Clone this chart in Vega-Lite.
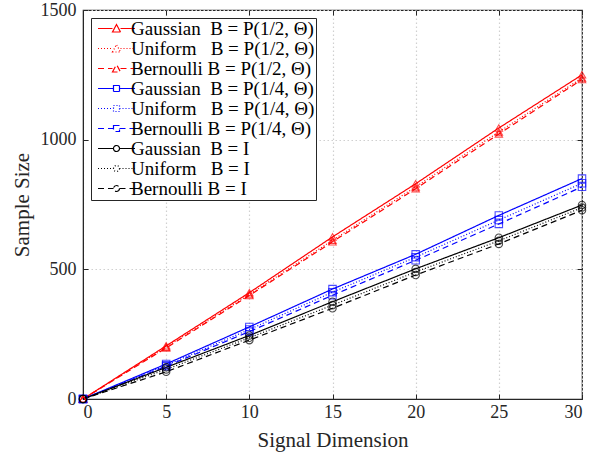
{
  "$schema": "https://vega.github.io/schema/vega-lite/v6.json",
  "width": 499,
  "height": 389,
  "autosize": {"type": "none"},
  "padding": {"left": 83, "top": 10, "right": 21, "bottom": 60},
  "background": "white",
  "config": {
    "view": {"stroke": "#262626", "strokeWidth": 1.2},
    "font": "Liberation Serif",
    "axis": {
      "labelFont": "Liberation Serif", "titleFont": "Liberation Serif",
      "labelFontSize": 18, "titleFontSize": 21, "titleFontWeight": "normal",
      "labelColor": "#262626", "titleColor": "#262626",
      "domainColor": "#262626", "tickColor": "#262626",
      "tickSize": -5, "labelPadding": 9,
      "gridColor": "#d0d0d0", "gridDash": [1.5, 2.5], "gridWidth": 1.2
    }
  },
  "data": {"values": [
    {"series": "Gaussian\u00a0\u00a0B = P(1/2, Θ)", "x": 0, "y": 0},
    {"series": "Gaussian\u00a0\u00a0B = P(1/2, Θ)", "x": 5, "y": 205},
    {"series": "Gaussian\u00a0\u00a0B = P(1/2, Θ)", "x": 10, "y": 410},
    {"series": "Gaussian\u00a0\u00a0B = P(1/2, Θ)", "x": 15, "y": 625},
    {"series": "Gaussian\u00a0\u00a0B = P(1/2, Θ)", "x": 20, "y": 830},
    {"series": "Gaussian\u00a0\u00a0B = P(1/2, Θ)", "x": 25, "y": 1045},
    {"series": "Gaussian\u00a0\u00a0B = P(1/2, Θ)", "x": 30, "y": 1250},
    {"series": "Uniform\u00a0\u00a0\u00a0B = P(1/2, Θ)", "x": 0, "y": 0},
    {"series": "Uniform\u00a0\u00a0\u00a0B = P(1/2, Θ)", "x": 5, "y": 200},
    {"series": "Uniform\u00a0\u00a0\u00a0B = P(1/2, Θ)", "x": 10, "y": 403},
    {"series": "Uniform\u00a0\u00a0\u00a0B = P(1/2, Θ)", "x": 15, "y": 612},
    {"series": "Uniform\u00a0\u00a0\u00a0B = P(1/2, Θ)", "x": 20, "y": 818},
    {"series": "Uniform\u00a0\u00a0\u00a0B = P(1/2, Θ)", "x": 25, "y": 1030},
    {"series": "Uniform\u00a0\u00a0\u00a0B = P(1/2, Θ)", "x": 30, "y": 1238},
    {"series": "Bernoulli B = P(1/2, Θ)", "x": 0, "y": 0},
    {"series": "Bernoulli B = P(1/2, Θ)", "x": 5, "y": 197},
    {"series": "Bernoulli B = P(1/2, Θ)", "x": 10, "y": 399},
    {"series": "Bernoulli B = P(1/2, Θ)", "x": 15, "y": 606},
    {"series": "Bernoulli B = P(1/2, Θ)", "x": 20, "y": 811},
    {"series": "Bernoulli B = P(1/2, Θ)", "x": 25, "y": 1022},
    {"series": "Bernoulli B = P(1/2, Θ)", "x": 30, "y": 1232},
    {"series": "Gaussian\u00a0\u00a0B = P(1/4, Θ)", "x": 0, "y": 0},
    {"series": "Gaussian\u00a0\u00a0B = P(1/4, Θ)", "x": 5, "y": 135},
    {"series": "Gaussian\u00a0\u00a0B = P(1/4, Θ)", "x": 10, "y": 278},
    {"series": "Gaussian\u00a0\u00a0B = P(1/4, Θ)", "x": 15, "y": 424},
    {"series": "Gaussian\u00a0\u00a0B = P(1/4, Θ)", "x": 20, "y": 558},
    {"series": "Gaussian\u00a0\u00a0B = P(1/4, Θ)", "x": 25, "y": 708},
    {"series": "Gaussian\u00a0\u00a0B = P(1/4, Θ)", "x": 30, "y": 850},
    {"series": "Uniform\u00a0\u00a0\u00a0B = P(1/4, Θ)", "x": 0, "y": 0},
    {"series": "Uniform\u00a0\u00a0\u00a0B = P(1/4, Θ)", "x": 5, "y": 130},
    {"series": "Uniform\u00a0\u00a0\u00a0B = P(1/4, Θ)", "x": 10, "y": 268},
    {"series": "Uniform\u00a0\u00a0\u00a0B = P(1/4, Θ)", "x": 15, "y": 412},
    {"series": "Uniform\u00a0\u00a0\u00a0B = P(1/4, Θ)", "x": 20, "y": 547},
    {"series": "Uniform\u00a0\u00a0\u00a0B = P(1/4, Θ)", "x": 25, "y": 690},
    {"series": "Uniform\u00a0\u00a0\u00a0B = P(1/4, Θ)", "x": 30, "y": 832},
    {"series": "Bernoulli B = P(1/4, Θ)", "x": 0, "y": 0},
    {"series": "Bernoulli B = P(1/4, Θ)", "x": 5, "y": 126},
    {"series": "Bernoulli B = P(1/4, Θ)", "x": 10, "y": 260},
    {"series": "Bernoulli B = P(1/4, Θ)", "x": 15, "y": 400},
    {"series": "Bernoulli B = P(1/4, Θ)", "x": 20, "y": 535},
    {"series": "Bernoulli B = P(1/4, Θ)", "x": 25, "y": 675},
    {"series": "Bernoulli B = P(1/4, Θ)", "x": 30, "y": 818},
    {"series": "Gaussian\u00a0\u00a0B = I", "x": 0, "y": 0},
    {"series": "Gaussian\u00a0\u00a0B = I", "x": 5, "y": 122},
    {"series": "Gaussian\u00a0\u00a0B = I", "x": 10, "y": 245},
    {"series": "Gaussian\u00a0\u00a0B = I", "x": 15, "y": 375},
    {"series": "Gaussian\u00a0\u00a0B = I", "x": 20, "y": 502},
    {"series": "Gaussian\u00a0\u00a0B = I", "x": 25, "y": 622},
    {"series": "Gaussian\u00a0\u00a0B = I", "x": 30, "y": 748},
    {"series": "Uniform\u00a0\u00a0\u00a0B = I", "x": 0, "y": 0},
    {"series": "Uniform\u00a0\u00a0\u00a0B = I", "x": 5, "y": 114},
    {"series": "Uniform\u00a0\u00a0\u00a0B = I", "x": 10, "y": 236},
    {"series": "Uniform\u00a0\u00a0\u00a0B = I", "x": 15, "y": 362},
    {"series": "Uniform\u00a0\u00a0\u00a0B = I", "x": 20, "y": 490},
    {"series": "Uniform\u00a0\u00a0\u00a0B = I", "x": 25, "y": 610},
    {"series": "Uniform\u00a0\u00a0\u00a0B = I", "x": 30, "y": 738},
    {"series": "Bernoulli B = I", "x": 0, "y": 0},
    {"series": "Bernoulli B = I", "x": 5, "y": 105},
    {"series": "Bernoulli B = I", "x": 10, "y": 227},
    {"series": "Bernoulli B = I", "x": 15, "y": 350},
    {"series": "Bernoulli B = I", "x": 20, "y": 478},
    {"series": "Bernoulli B = I", "x": 25, "y": 598},
    {"series": "Bernoulli B = I", "x": 30, "y": 728}
  ]},
  "layer": [
    {
      "mark": {"type": "line", "strokeWidth": 1.2},
      "encoding": {
        "x": {"field": "x", "type": "quantitative", "scale": {"domain": [0, 30], "nice": false},
              "axis": {"values": [0, 5, 10, 15, 20, 25, 30], "title": "Signal Dimension", "grid": true, "labelAngle": 0, "titlePadding": 8}},
        "y": {"field": "y", "type": "quantitative", "scale": {"domain": [0, 1500], "nice": false},
              "axis": {"values": [0, 500, 1000, 1500], "format": "d", "title": "Sample Size", "grid": true, "labelPadding": 12, "titlePadding": 8}},
        "color": {"field": "series", "type": "nominal",
          "scale": {"domain": ["Gaussian\u00a0\u00a0B = P(1/2, Θ)", "Uniform\u00a0\u00a0\u00a0B = P(1/2, Θ)", "Bernoulli B = P(1/2, Θ)", "Gaussian\u00a0\u00a0B = P(1/4, Θ)", "Uniform\u00a0\u00a0\u00a0B = P(1/4, Θ)", "Bernoulli B = P(1/4, Θ)", "Gaussian\u00a0\u00a0B = I", "Uniform\u00a0\u00a0\u00a0B = I", "Bernoulli B = I"],
                    "range": ["#ff0000", "#ff0000", "#ff0000", "#0000ff", "#0000ff", "#0000ff", "#000000", "#000000", "#000000"]},
          "legend": {"title": null, "orient": "top-left", "offset": 8, "fillColor": "white", "strokeColor": "#262626", "padding": 1,
            "labelFont": "Liberation Serif", "labelFontSize": 19, "labelColor": "black", "labelLimit": 0,
            "symbolSize": 100, "symbolOffset": 15, "labelOffset": 5, "rowPadding": -2, "symbolStrokeWidth": 1.2,
            "encode": {"symbols": {"update": {
              "shape": {"signal": "indexof(datum.value, '1/2') >= 0 ? 'M-3.7,0H-0.8M0.8,0H3.7M-0.8,0.7L0,-0.8L0.8,0.7Z' : indexof(datum.value, '1/4') >= 0 ? 'M-3.7,0H-0.6M0.6,0H3.7M-0.6,-0.6H0.6V0.6H-0.6Z' : 'M-3.7,0H-0.6M0.6,0H3.7M0.6,0A0.6,0.6 0 1,1 -0.6,0A0.6,0.6 0 1,1 0.6,0Z'"},
              "fill": {"value": "transparent"}}}}}},
        "strokeDash": {"field": "series", "type": "nominal",
          "scale": {"domain": ["Gaussian\u00a0\u00a0B = P(1/2, Θ)", "Uniform\u00a0\u00a0\u00a0B = P(1/2, Θ)", "Bernoulli B = P(1/2, Θ)", "Gaussian\u00a0\u00a0B = P(1/4, Θ)", "Uniform\u00a0\u00a0\u00a0B = P(1/4, Θ)", "Bernoulli B = P(1/4, Θ)", "Gaussian\u00a0\u00a0B = I", "Uniform\u00a0\u00a0\u00a0B = I", "Bernoulli B = I"],
                    "range": [[1, 0], [1, 2], [6, 4], [1, 0], [1, 2], [6, 4], [1, 0], [1, 2], [6, 4]]},
          "legend": {"title": null, "orient": "top-left", "offset": 8, "fillColor": "white", "strokeColor": "#262626", "padding": 1,
            "labelFont": "Liberation Serif", "labelFontSize": 19, "labelColor": "black", "labelLimit": 0,
            "symbolSize": 100, "symbolOffset": 15, "labelOffset": 5, "rowPadding": -2, "symbolStrokeWidth": 1.2,
            "encode": {"symbols": {"update": {
              "shape": {"signal": "indexof(datum.value, '1/2') >= 0 ? 'M-3.7,0H-0.8M0.8,0H3.7M-0.8,0.7L0,-0.8L0.8,0.7Z' : indexof(datum.value, '1/4') >= 0 ? 'M-3.7,0H-0.6M0.6,0H3.7M-0.6,-0.6H0.6V0.6H-0.6Z' : 'M-3.7,0H-0.6M0.6,0H3.7M0.6,0A0.6,0.6 0 1,1 -0.6,0A0.6,0.6 0 1,1 0.6,0Z'"},
              "fill": {"value": "transparent"}}}}}}
      }
    },
    {
      "mark": {"type": "point", "filled": false, "size": 55, "strokeWidth": 1.1},
      "encoding": {
        "x": {"field": "x", "type": "quantitative", "axis": null},
        "y": {"field": "y", "type": "quantitative", "axis": null},
        "color": {"field": "series", "type": "nominal", "legend": null},
        "shape": {"field": "series", "type": "nominal", "legend": null,
          "scale": {"domain": ["Gaussian\u00a0\u00a0B = P(1/2, Θ)", "Uniform\u00a0\u00a0\u00a0B = P(1/2, Θ)", "Bernoulli B = P(1/2, Θ)", "Gaussian\u00a0\u00a0B = P(1/4, Θ)", "Uniform\u00a0\u00a0\u00a0B = P(1/4, Θ)", "Bernoulli B = P(1/4, Θ)", "Gaussian\u00a0\u00a0B = I", "Uniform\u00a0\u00a0\u00a0B = I", "Bernoulli B = I"],
                    "range": ["triangle-up", "triangle-up", "triangle-up", "square", "square", "square", "circle", "circle", "circle"]}}
      }
    },
    {
      "mark": {"type": "point", "opacity": 0},
      "encoding": {
        "x": {"field": "x", "type": "quantitative",
              "axis": {"orient": "top", "values": [0, 5, 10, 15, 20, 25, 30], "labels": false, "domain": false, "grid": false, "title": null}},
        "y": {"field": "y", "type": "quantitative",
              "axis": {"orient": "right", "values": [0, 500, 1000, 1500], "labels": false, "domain": false, "grid": false, "title": null}}
      }
    }
  ],
  "resolve": {"axis": {"x": "independent", "y": "independent"}, "scale": {"shape": "independent"}, "legend": {"shape": "independent"}}
}
